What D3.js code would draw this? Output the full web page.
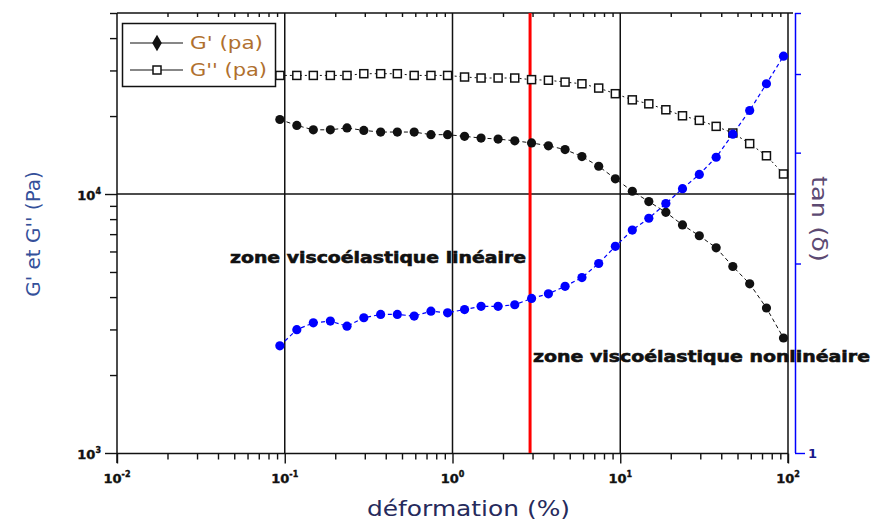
<!DOCTYPE html>
<html>
<head>
<meta charset="utf-8">
<script src="https://cdn.jsdelivr.net/npm/d3@7"></script>
<style>
  body { margin: 0; background: #fff; }
  svg { display: block; }
</style>
</head>
<body>
<svg id="chart" width="872" height="526"></svg>
<script>
// Strain sweep: deformation (%) and measured moduli / loss factor
const strain = [0.0935, 0.118, 0.148, 0.187, 0.235, 0.296, 0.373, 0.469, 0.591, 0.744,
                0.935, 1.18, 1.48, 1.87, 2.35, 2.96, 3.73, 4.69, 5.91, 7.44,
                9.35, 11.8, 14.8, 18.7, 23.5, 29.6, 37.3, 46.9, 59.1, 74.4, 94];
const gPrime = [19400, 18400, 17700, 17700, 18000, 17600, 17350, 17350, 17350, 16950,
                16950, 16700, 16450, 16300, 16050, 15750, 15350, 14850, 13950, 12800,
                11450, 10250, 9350, 8500, 7600, 6900, 6200, 5250, 4500, 3630, 2780];
const gSecond = [28700, 28700, 28700, 28700, 28700, 29150, 29150, 29150, 28700, 28700,
                 28700, 28300, 28050, 28050, 28050, 27650, 27500, 27050, 26650, 25650,
                 24400, 23100, 22300, 21150, 20050, 19250, 18250, 17200, 15650, 14050, 11950];
const tanDelta = [1.48, 1.57, 1.61, 1.62, 1.59, 1.64, 1.66, 1.66, 1.65, 1.68,
                  1.67, 1.69, 1.71, 1.71, 1.72, 1.76, 1.79, 1.84, 1.90, 2.00,
                  2.13, 2.26, 2.36, 2.49, 2.63, 2.77, 2.95, 3.21, 3.50, 3.86, 4.27];

const xMajor = [0.01, 0.1, 1, 10, 100];
const xMajorExp = ["-2", "-1", "0", "1", "2"];
const yMajor = [1000, 10000];
const yMajorExp = ["3", "4"];
const tanTicks = [1, 2, 3, 4, 5];
const linearLimit = 2.9;   // end of the linear viscoelastic region (%)

const legendLabels = ["G' (pa)", "G'' (pa)"];
const zoneLabels = ["zone viscoélastique linéaire", "zone viscoélastique nonlinéaire"];

const svg = d3.select("#chart");

const pLeft = 117, pRight = 788, pTop = 13, pBottom = 453;
const tanAxisX = 795;

const x = d3.scaleLog().domain([0.01, 100]).range([pLeft, pRight]);
const y = d3.scaleLog().domain([1000, 50000]).range([pBottom, pTop]);
const yTan = d3.scaleLog().domain([1, 5]).range([pBottom, pTop]);

const ink = "#111";

// ---- minor ticks -------------------------------------------------------
const isMajorX = v => xMajor.some(m => Math.abs(Math.log10(v) - Math.log10(m)) < 1e-6);
const xMinor = x.ticks().filter(v => !isMajorX(v));
const isMajorY = v => yMajor.some(m => Math.abs(Math.log10(v) - Math.log10(m)) < 1e-6);
const yMinor = y.ticks().filter(v => !isMajorY(v));

function styleAxis(g) {
  g.select(".domain").remove();
  g.selectAll(".tick line").attr("stroke", ink).attr("stroke-width", 1.4);
  g.selectAll(".tick text").remove();
}

// bottom minor ticks (outside) and major ticks
svg.append("g").attr("transform", `translate(0,${pBottom + 0.5})`)
  .call(d3.axisBottom(x).tickValues(xMinor).tickSize(6).tickFormat(""))
  .call(styleAxis);
svg.append("g").attr("transform", `translate(0,${pBottom + 0.5})`)
  .call(d3.axisBottom(x).tickValues(xMajor).tickSize(10).tickFormat(""))
  .call(styleAxis);

// top minor ticks (inside)
svg.append("g").attr("transform", `translate(0,${pTop})`)
  .call(d3.axisTop(x).tickValues(xMinor).tickSize(-4).tickFormat(""))
  .call(styleAxis);

// left minor / major ticks (outside)
svg.append("g").attr("transform", `translate(${pLeft},0)`)
  .call(d3.axisLeft(y).tickValues(yMinor).tickSize(7).tickFormat(""))
  .call(styleAxis);
svg.append("g").attr("transform", `translate(${pLeft},0)`)
  .call(d3.axisLeft(y).tickValues(yMajor).tickSize(12).tickFormat(""))
  .call(styleAxis);

// ---- grid lines ----------------------------------------------------------
svg.append("g").selectAll("line").data([0.1, 1, 10]).join("line")
  .attr("x1", d => x(d)).attr("x2", d => x(d))
  .attr("y1", pTop).attr("y2", pBottom)
  .attr("stroke", ink).attr("stroke-width", 1.5);
svg.append("line")
  .attr("x1", pLeft).attr("x2", tanAxisX)
  .attr("y1", y(10000)).attr("y2", y(10000))
  .attr("stroke", ink).attr("stroke-width", 1.5);

// ---- frame ---------------------------------------------------------------
svg.append("line").attr("x1", pLeft).attr("x2", tanAxisX - 2).attr("y1", pTop).attr("y2", pTop)
  .attr("stroke", ink).attr("stroke-width", 1.5);
svg.append("line").attr("x1", pLeft).attr("x2", pRight).attr("y1", pBottom + 0.5).attr("y2", pBottom + 0.5)
  .attr("stroke", ink).attr("stroke-width", 1.5);
svg.append("line").attr("x1", pLeft).attr("x2", pLeft).attr("y1", pTop).attr("y2", pBottom + 10)
  .attr("stroke", ink).attr("stroke-width", 1.5);
svg.append("line").attr("x1", pRight).attr("x2", pRight).attr("y1", pTop).attr("y2", pBottom + 10)
  .attr("stroke", ink).attr("stroke-width", 1.5);

// ---- tan(δ) axis (blue, right) --------------------------------------------
const tanAxis = svg.append("g").attr("transform", `translate(${tanAxisX},0)`)
  .call(d3.axisRight(yTan).tickValues(tanTicks).tickSize(6)
    .tickFormat(d => d === 1 ? "1" : ""));
tanAxis.select(".domain").attr("stroke", "#0000ff").attr("stroke-width", 1.5)
  .attr("d", `M0.5,${pTop}V${pBottom}`);
tanAxis.selectAll(".tick line").attr("stroke", "#0000ff").attr("stroke-width", 1.4)
  .attr("x2", d => d === 1 ? 10 : 6);
tanAxis.selectAll(".tick text")
  .attr("x", 13).attr("fill", "#1a1a8c")
  .attr("font-family", "DejaVu Sans").attr("font-weight", "bold").attr("font-size", 13);

// ---- tick labels ----------------------------------------------------------
const tickFont = { family: "DejaVu Sans", size: 13 };
svg.append("g").selectAll("text").data(xMajor).join("text")
  .attr("x", d => x(d)).attr("y", 483)
  .attr("text-anchor", "middle")
  .attr("font-family", tickFont.family).attr("font-weight", "bold")
  .attr("font-size", tickFont.size).attr("fill", ink)
  .attr("stroke", ink).attr("stroke-width", 0.4)
  .each(function(d, i) {
    const t = d3.select(this);
    t.append("tspan").text("10");
    t.append("tspan").attr("dy", -6).attr("font-size", 8).text(xMajorExp[i]);
  });
svg.append("g").selectAll("text").data(yMajor).join("text")
  .attr("x", 101).attr("y", d => y(d) + 6)
  .attr("text-anchor", "end")
  .attr("font-family", tickFont.family).attr("font-weight", "bold")
  .attr("font-size", tickFont.size).attr("fill", ink)
  .attr("stroke", ink).attr("stroke-width", 0.4)
  .each(function(d, i) {
    const t = d3.select(this);
    t.append("tspan").text("10");
    t.append("tspan").attr("dy", -6).attr("font-size", 8).text(yMajorExp[i]);
  });

// ---- linear viscoelastic limit -------------------------------------------
svg.append("line")
  .attr("x1", x(linearLimit)).attr("x2", x(linearLimit))
  .attr("y1", pTop).attr("y2", pBottom)
  .attr("stroke", "#ff0000").attr("stroke-width", 3);

// ---- series ------------------------------------------------------------------
const line = yScale => d3.line().x((d, i) => x(strain[i])).y(d => yScale(d));

svg.append("path").datum(gPrime)
  .attr("d", line(y)).attr("fill", "none")
  .attr("stroke", ink).attr("stroke-width", 1).attr("stroke-dasharray", "4,3");
svg.append("path").datum(gSecond)
  .attr("d", line(y)).attr("fill", "none")
  .attr("stroke", ink).attr("stroke-width", 1).attr("stroke-dasharray", "2,3");
svg.append("path").datum(tanDelta)
  .attr("d", line(yTan)).attr("fill", "none")
  .attr("stroke", "#0000ff").attr("stroke-width", 1.2).attr("stroke-dasharray", "4,3");

svg.append("g").selectAll("rect").data(gSecond).join("rect")
  .attr("x", (d, i) => x(strain[i]) - 4).attr("y", d => y(d) - 4)
  .attr("width", 8).attr("height", 8)
  .attr("fill", "#fff").attr("stroke", ink).attr("stroke-width", 1.5);
svg.append("g").selectAll("circle").data(gPrime).join("circle")
  .attr("cx", (d, i) => x(strain[i])).attr("cy", d => y(d)).attr("r", 4.6)
  .attr("fill", ink);
svg.append("g").selectAll("circle").data(tanDelta).join("circle")
  .attr("cx", (d, i) => x(strain[i])).attr("cy", d => yTan(d)).attr("r", 4.6)
  .attr("fill", "#0000ff");

// ---- zone annotations ------------------------------------------------------
const zoneFont = "DejaVu Sans";
svg.append("text").text(zoneLabels[0])
  .attr("x", 230).attr("y", 263)
  .attr("font-family", zoneFont).attr("font-weight", "bold").attr("font-size", 16)
  .attr("fill", ink).attr("stroke", ink).attr("stroke-width", 0.6)
  .attr("textLength", 296).attr("lengthAdjust", "spacingAndGlyphs");
svg.append("text").text(zoneLabels[1])
  .attr("x", 533).attr("y", 362)
  .attr("font-family", zoneFont).attr("font-weight", "bold").attr("font-size", 16)
  .attr("fill", ink).attr("stroke", ink).attr("stroke-width", 0.6)
  .attr("textLength", 337).attr("lengthAdjust", "spacingAndGlyphs");

// ---- legend --------------------------------------------------------------------
const legend = svg.append("g");
legend.append("rect")
  .attr("x", 122.5).attr("y", 23.5).attr("width", 153).attr("height", 63)
  .attr("fill", "#fff").attr("stroke", ink).attr("stroke-width", 1.5);
const rows = [43, 70];
rows.forEach((ry, i) => {
  legend.append("line").attr("x1", 130).attr("x2", 183).attr("y1", ry).attr("y2", ry)
    .attr("stroke", ink).attr("stroke-width", 1.2);
  if (i === 0) {
    legend.append("path")
      .attr("d", d3.symbol(d3.symbolDiamond, 80)())
      .attr("transform", `translate(157,${ry})`).attr("fill", ink);
  } else {
    legend.append("rect").attr("x", 153).attr("y", ry - 4).attr("width", 8).attr("height", 8)
      .attr("fill", "#fff").attr("stroke", ink).attr("stroke-width", 1.5);
  }
  legend.append("text").text(legendLabels[i])
    .attr("x", 190).attr("y", ry + 6)
    .attr("font-family", "DejaVu Sans").attr("font-size", 17)
    .attr("fill", "#b0702e")
    .attr("textLength", i === 0 ? 73 : 77).attr("lengthAdjust", "spacingAndGlyphs");
});

// ---- axis titles ----------------------------------------------------------------
svg.append("text").text("déformation (%)")
  .attr("x", 367).attr("y", 516)
  .attr("font-family", "DejaVu Sans").attr("font-size", 21)
  .attr("fill", "#262a5c")
  .attr("textLength", 203).attr("lengthAdjust", "spacingAndGlyphs");

svg.append("text").text("G' et G'' (Pa)")
  .attr("transform", "translate(40,234) rotate(-90)")
  .attr("text-anchor", "middle")
  .attr("font-family", "DejaVu Sans").attr("font-size", 20)
  .attr("fill", "#34509a");

svg.append("text").text("tan (δ)")
  .attr("transform", "translate(812,219) rotate(90)")
  .attr("text-anchor", "middle")
  .attr("font-family", "DejaVu Sans").attr("font-size", 22)
  .attr("fill", "#5c4a72")
  .attr("textLength", 86).attr("lengthAdjust", "spacingAndGlyphs");
</script>
</body>
</html>
